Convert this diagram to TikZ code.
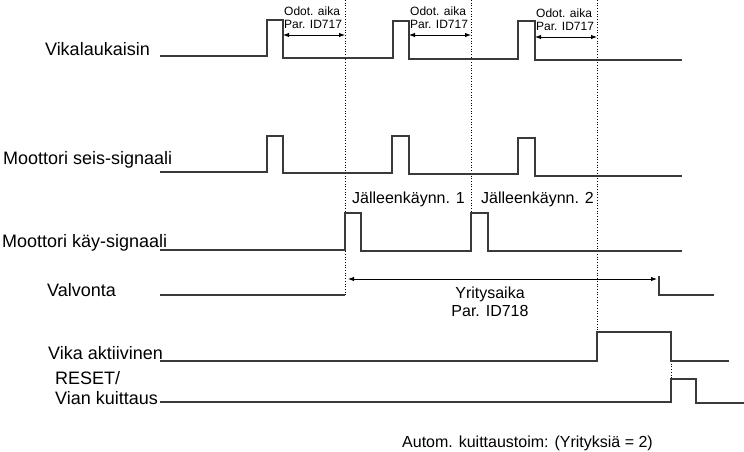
\documentclass[tikz,border=0pt]{standalone}
\usepackage{fontspec}
\setmainfont{Liberation Sans}
\usepackage{xcolor}
\usetikzlibrary{calc,arrows.meta}
\definecolor{sig}{HTML}{3A3A3A}
\tikzset{
  wave/.style={draw=sig, line width=1.3pt, line join=miter},
  mark line/.style={draw=black, dotted, line width=0.7pt},
  span/.style={draw=black, line width=0.9pt, {Latex[length=6pt,width=4.5pt]}-{Latex[length=6pt,width=4.5pt]}},
  lab/.style={text=black, font=\fontsize{18}{20}\selectfont, inner sep=0pt},
  labs/.style={text=black, font=\fontsize{12}{13}\selectfont, inner sep=0pt, align=left},
  labm/.style={text=black, font=\fontsize{16}{18}\selectfont, inner sep=0pt, align=center},
}

\begin{document}
\begin{tikzpicture}[x=1pt,y=-1pt]
  \useasboundingbox (0,0) rectangle (744,451);

  % event times
  \coordinate (T1) at (345,0);
  \coordinate (T2) at (471,0);
  \coordinate (T3) at (597,0);
  \coordinate (T4) at (671,0);

  % row labels
  \node[lab,anchor=east] (vl) at (150,49) {Vikalaukaisin};
  \node[lab,anchor=west] (ms) at (3,160) {Moottori seis-signaali};
  \node[lab,anchor=west] (mk) at (2,243) {Moottori käy-signaali};
  \node[lab,anchor=west] (va) at (47,290) {Valvonta};
  \node[lab,anchor=west] (vk) at (48,353) {Vika aktiivinen};
  \node[lab,anchor=west,align=left] (rs) at (55,388) {RESET/\\Vian kuittaus};

  % dotted marker lines
  \draw[mark line] (T1) -- (345,295);
  \draw[mark line] (T2) -- (471,250);
  \draw[mark line] (T3) -- (597,332);
  \draw[mark line] (671,361) -- (671,379);

  % Vikalaukaisin
  \draw[wave] (160,56) -- (267,56) -- (267,20) -- (283,20) -- (283,58)
    -- (393,58) -- (393,21) -- (409,21) -- (409,59)
    -- (518,59) -- (518,21) -- (535,21) -- (535,60) -- (682,60);
  \foreach \a/\b/\yy in {283/345/35, 409/471/35, 535/597/37} {
    \coordinate (s) at (\a,\yy);
    \coordinate (e) at (\b,\yy);
    \draw[span] (s) -- (e);
    \node[labs,anchor=south west] at ($(s)+(1,-6)$) {Odot. aika\\Par. ID717};
  }

  % Moottori seis-signaali
  \draw[wave] (160,172) -- (267,172) -- (267,136) -- (283,136) -- (283,173)
    -- (392,173) -- (392,136) -- (409,136) -- (409,174)
    -- (518,174) -- (518,138) -- (535,138) -- (535,176) -- (682,176);

  % Moottori kay-signaali
  \draw[wave] (160,250) -- (345,250) -- (345,213) -- (361,213) -- (361,251)
    -- (471,251) -- (471,213) -- (488,213) -- (488,251) -- (682,251);
  \node[labm,anchor=west] (j1) at (352,199) {Jälleenkäynn. 1};
  \node[labm,anchor=west] (j2) at (481,199) {Jälleenkäynn. 2};

  % Valvonta
  \draw[wave] (160,295) -- (345,295);
  \draw[wave] (659,276) -- (659,295) -- (714,295);
  \coordinate (ys) at (348,279);
  \coordinate (ye) at (657,279);
  \draw[span] (ys) -- (ye);
  \node[labm] (yr) at (490,302) {Yritysaika\\Par. ID718};

  % Vika aktiivinen
  \draw[wave] (160,361) -- (597,361) -- (597,332) -- (671,332) -- (671,361) -- (729,361);

  % RESET / Vian kuittaus
  \draw[wave] (160,402) -- (671,402) -- (671,379) -- (696,379) -- (696,403) -- (744,403);

  \node[labm,anchor=west] (au) at (402,443) {Autom. kuittaustoim: (Yrityksiä = 2)};
\end{tikzpicture}
\end{document}
